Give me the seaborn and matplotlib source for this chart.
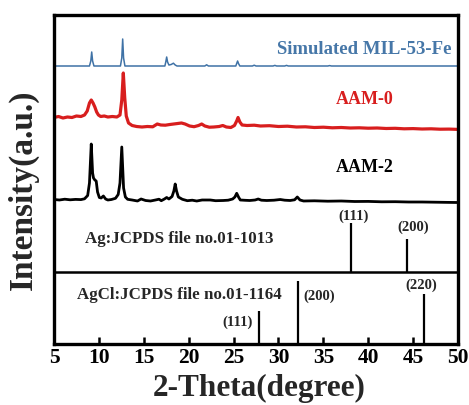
import numpy as np
import pandas as pd
import matplotlib
matplotlib.use("Agg")
import matplotlib.pyplot as plt
import seaborn as sns

# ---- XRD patterns (2-theta in degrees, intensity in a.u. above each baseline) ----
mil53_2theta = [5.0, 8.95, 9.1, 9.2, 9.3, 9.45, 12.4, 12.55, 12.65, 12.75, 12.9,
                17.35, 17.45, 17.55, 17.65, 17.8, 18.05, 18.3, 18.5, 18.7,
                21.8, 22.0, 22.2, 25.25, 25.35, 25.45, 25.55, 25.7, 27.1, 27.3, 27.5,
                29.4, 29.6, 29.8, 30.7, 30.9, 31.1, 35.5, 35.7, 35.9, 50.0]
mil53_int = [0, 0, 5, 14, 5, 0, 0, 8, 27, 8, 0,
             0, 4, 9, 4, 1.0, 1.5, 2.8, 1.0, 0,
             0, 1.2, 0, 0, 2.5, 5, 2.5, 0, 0, 0.8, 0,
             0, 0.6, 0, 0, 0.6, 0, 0, 0.4, 0, 0]

aam0_2theta = [5.0, 5.5, 6.0, 6.5, 7.0, 7.5, 8.0, 8.4, 8.7, 8.95, 9.15, 9.35, 9.55,
               9.75, 9.95, 10.2, 10.6, 11.0, 11.5, 12.0, 12.35, 12.55, 12.72, 12.88,
               13.05, 13.3, 13.7, 14.2, 14.8, 15.4, 16.0, 16.5, 16.9, 17.4, 17.9,
               18.6, 19.2, 19.6, 20.1, 20.6, 21.1, 21.45, 21.8, 22.3, 22.8, 23.4,
               23.8, 24.2, 24.7, 25.1, 25.35, 25.5, 25.7, 25.95, 26.5, 27.3, 28.0,
               29.0, 30.0, 31.0, 32.0, 33.0, 34.0, 35.0, 36.0, 37.0, 38.0, 39.0,
               40.0, 41.0, 42.0, 43.0, 44.0, 45.0, 46.0, 47.0, 48.0, 49.0, 50.0]
aam0_int = [12.5, 13.5, 12.0, 13.0, 12.5, 14.0, 13.5, 15.0, 19.0, 27.0, 30.0, 27.0, 23.0,
            18.0, 15.0, 13.5, 14.0, 13.0, 13.5, 13.0, 15.0, 30.0, 57.0, 32.0,
            14.0, 7.0, 4.5, 3.5, 3.0, 3.5, 3.2, 6.0, 5.0, 4.8, 5.5,
            6.3, 7.0, 6.0, 4.0, 3.3, 4.5, 6.0, 4.0, 2.8, 3.0, 3.5,
            4.5, 3.0, 2.5, 4.5, 9.0, 12.5, 8.0, 5.0, 4.5, 4.8, 4.0,
            4.3, 3.5, 3.8, 3.0, 3.2, 2.5, 2.8, 2.2, 2.5, 2.0, 2.2,
            1.8, 2.0, 1.5, 1.7, 1.2, 1.4, 1.0, 1.2, 0.8, 0.9, 0.6]

aam2_2theta = [5.0, 5.6, 6.2, 6.8, 7.4, 8.0, 8.4, 8.75, 8.95, 9.15, 9.3, 9.4, 9.55,
               9.7, 9.85, 10.05, 10.25, 10.5, 10.75, 11.0, 11.4, 11.85, 12.15, 12.35,
               12.55, 12.75, 12.95, 13.2, 13.7, 14.3, 14.7, 15.2, 15.75, 16.3, 16.7,
               16.95, 17.3, 17.55, 17.8, 18.15, 18.35, 18.5, 18.65, 18.85, 19.3,
               19.85, 20.4, 20.9, 21.5, 22.4, 23.0, 23.85, 24.4, 24.9, 25.15, 25.35,
               25.55, 25.75, 26.3, 26.8, 27.4, 27.75, 28.1, 28.7, 29.5, 30.2, 30.7,
               31.3, 31.8, 32.1, 32.4, 32.8, 34.0, 35.5, 37.0, 38.5, 40.0, 41.5,
               43.0, 44.5, 46.0, 47.5, 49.0, 50.0]
aam2_int = [3.5, 3.0, 3.8, 3.2, 3.6, 3.4, 4.2, 7.5, 20.0, 59.0, 30.0, 25.0, 23.0,
            22.0, 11.0, 5.5, 5.0, 7.0, 4.0, 3.0, 3.5, 4.7, 8.5, 20.0,
            56.0, 15.0, 6.0, 3.7, 3.0, 2.0, 4.0, 2.5, 2.0, 3.0, 3.8,
            2.3, 4.0, 5.5, 4.0, 6.5, 12.0, 19.0, 12.0, 6.0, 3.7,
            2.3, 2.8, 2.0, 3.0, 3.0, 2.3, 2.5, 2.8, 4.0, 6.0, 9.7,
            6.0, 3.0, 2.7, 2.5, 3.0, 4.0, 2.8, 2.5, 2.8, 3.5, 2.8,
            2.5, 3.2, 6.0, 3.0, 2.0, 2.2, 1.8, 2.0, 1.5, 1.6, 1.2,
            1.3, 1.0, 1.0, 0.8, 0.6, 0.5]

# ---- Standard reference cards ----
ag_2theta = [38.1, 44.3]
ag_int = [49, 33]
ag_hkl = ["(111)", "(200)"]

agcl_2theta = [27.8, 32.2, 46.25]
agcl_int = [33, 63, 50]
agcl_hkl = ["(111)", "(200)", "(220)"]

x_ticks = [5, 10, 15, 20, 25, 30, 35, 40, 45, 50]

# ---- Styling ----
sns.set_style("ticks")
plt.rcParams["font.family"] = ["Liberation Serif", "DejaVu Serif"]
plt.rcParams["font.weight"] = "bold"

BLUE = "#3f72a6"
RED = "#d81e1e"
BLACK = "#000000"

fig = plt.figure(figsize=(4.69, 4.05), dpi=100)
ax = fig.add_axes([54 / 469, 61 / 405, 404 / 469, 329 / 405])

# vertical stacking of the panels
base_mil53, base_aam0, base_aam2, base_ag, base_agcl = 278, 214, 141, 72, 0

patterns = [
    (mil53_2theta, mil53_int, base_mil53, BLUE, 1.1),
    (aam0_2theta, aam0_int, base_aam0, RED, 2.3),
    (aam2_2theta, aam2_int, base_aam2, BLACK, 2.0),
]
for tt, inten, base, color, lw in patterns:
    df = pd.DataFrame({"two_theta": tt, "intensity": np.asarray(inten) + base})
    sns.lineplot(data=df, x="two_theta", y="intensity", ax=ax, color=color,
                 linewidth=lw, estimator=None, sort=False)

# divider between the Ag and AgCl cards
ax.axhline(base_ag, color=BLACK, linewidth=1.8)

# stick patterns
ax.vlines(ag_2theta, base_ag, np.asarray(ag_int) + base_ag, color=BLACK, linewidth=1.6)
ax.vlines(agcl_2theta, base_agcl, np.asarray(agcl_int) + base_agcl, color=BLACK, linewidth=1.6)

hkl_kw = dict(textcoords="offset pixels", fontsize=10.5, fontweight="bold", va="center")
ax.annotate(ag_hkl[0], (ag_2theta[0], ag_int[0] + base_ag), xytext=(2.5, 7), ha="center", **hkl_kw)
ax.annotate(ag_hkl[1], (ag_2theta[1], ag_int[1] + base_ag), xytext=(6.5, 12), ha="center", **hkl_kw)
ax.annotate(agcl_hkl[0], (agcl_2theta[0], agcl_int[0] + base_agcl), xytext=(-6, -11), ha="right", **hkl_kw)
ax.annotate(agcl_hkl[1], (agcl_2theta[1], agcl_int[1] + base_agcl), xytext=(5, -15), ha="left", **hkl_kw)
ax.annotate(agcl_hkl[2], (agcl_2theta[2], agcl_int[2] + base_agcl), xytext=(-3.5, 8.5), ha="center", **hkl_kw)

# panel captions
ax.text(49.3, 294, "Simulated MIL-53-Fe", color="#4677a8", fontsize=13.5,
        fontweight="bold", ha="right", va="center")
ax.text(39.6, 244, "AAM-0", color=RED, fontsize=13, fontweight="bold", ha="center", va="center")
ax.text(39.6, 176, "AAM-2", color=BLACK, fontsize=13, fontweight="bold", ha="center", va="center")
ax.text(8.45, 105, "Ag:JCPDS file no.01-1013", fontsize=12.2, fontweight="bold", ha="left", va="center")
ax.text(7.53, 49, "AgCl:JCPDS file no.01-1164", fontsize=12.2, fontweight="bold", ha="left", va="center")

# axes
ax.set_xlim(5, 50)
ax.set_ylim(0, 329)
ax.set_xticks(x_ticks)
ax.set_xticklabels([str(t) for t in x_ticks], fontsize=15.5, fontweight="bold")
ax.set_yticks([])
ax.tick_params(axis="x", direction="in", length=5, width=1.8, pad=3, colors=BLACK)
for s in ax.spines.values():
    s.set_visible(True)
    s.set_linewidth(2.4)
    s.set_color(BLACK)
ax.set_xlabel("")
ax.set_ylabel("")

fig.text(259 / 469, 1 - 388 / 405, "2-Theta(degree)", fontsize=22.5, fontweight="bold",
         ha="center", va="center")
fig.text(23 / 469, 1 - 190 / 405, "Intensity(a.u.)", fontsize=24, fontweight="bold",
         ha="center", va="center", rotation=90)

fig.savefig("out.png", dpi=100, facecolor="white")
